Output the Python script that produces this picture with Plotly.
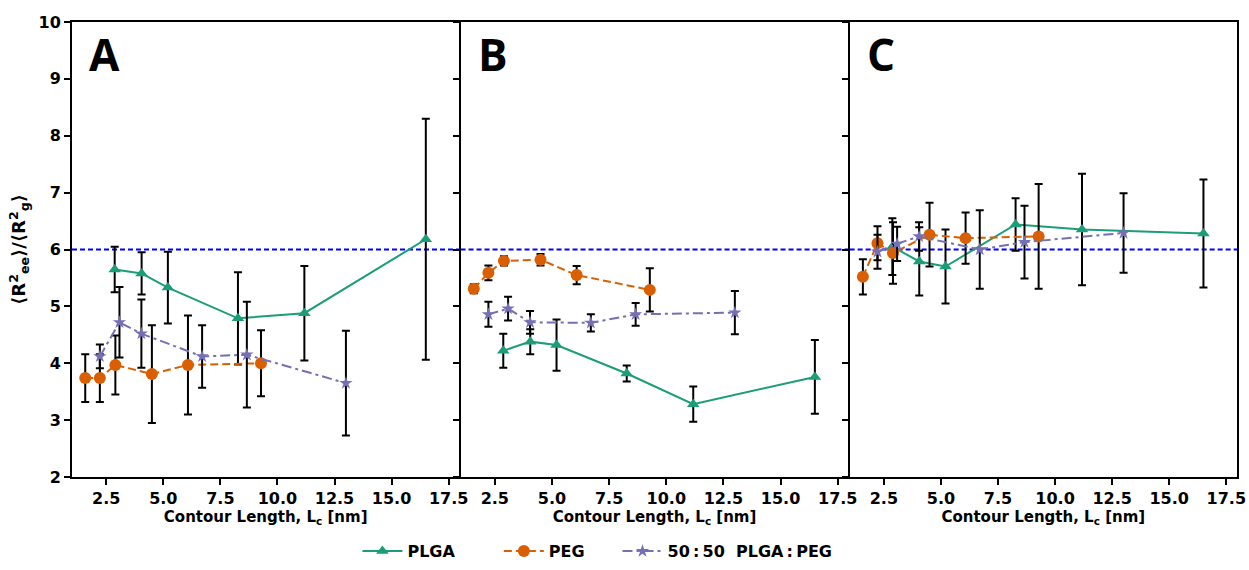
import plotly.graph_objects as go

# ---------------- data ----------------
x_plga = [2.87, 4.05, 5.20, 8.27, 11.18, 16.50]
x_peg = [1.58, 2.22, 2.90, 4.50, 6.08, 9.28]
x_mix = [2.22, 3.08, 4.04, 6.70, 8.66, 13.00]

# Panel A
a_plga = [5.65, 5.58, 5.33, 4.79, 4.88, 6.18]
a_plga_err = [0.40, 0.37, 0.63, 0.81, 0.83, 2.12]
a_peg = [3.74, 3.74, 3.97, 3.81, 3.97, 4.00]
a_peg_err = [0.42, 0.42, 0.52, 0.86, 0.87, 0.58]
a_mix = [4.12, 4.72, 4.52, 4.12, 4.15, 3.65]
a_mix_err = [0.21, 0.62, 0.60, 0.55, 0.93, 0.92]

# Panel B
b_plga = [4.22, 4.38, 4.32, 3.82, 3.28, 3.76]
b_plga_err = [0.30, 0.22, 0.45, 0.14, 0.31, 0.65]
b_peg = [5.31, 5.59, 5.80, 5.82, 5.55, 5.29]
b_peg_err = [0.08, 0.13, 0.08, 0.10, 0.16, 0.38]
b_mix = [4.86, 4.96, 4.72, 4.71, 4.86, 4.89]
b_mix_err = [0.22, 0.21, 0.20, 0.15, 0.20, 0.38]

# Panel C
c_plga = [6.05, 5.79, 5.70, 6.44, 6.35, 6.28]
c_plga_err = [0.50, 0.60, 0.65, 0.46, 0.98, 0.95]
c_peg = [5.52, 6.11, 5.94, 6.26, 6.20, 6.23]
c_peg_err = [0.31, 0.30, 0.54, 0.56, 0.45, 0.92]
c_mix = [5.96, 6.10, 6.23, 6.00, 6.13, 6.29]
c_mix_err = [0.30, 0.30, 0.25, 0.69, 0.64, 0.70]

panel_labels = ["A", "B", "C"]
series_names = ["PLGA", "PEG", "50\u2009:\u200950\u00a0\u00a0PLGA\u2009:\u2009PEG"]
x_ticks = [2.5, 5.0, 7.5, 10.0, 12.5, 15.0, 17.5]
x_tick_text = ["2.5", "5.0", "7.5", "10.0", "12.5", "15.0", "17.5"]
y_ticks = [2, 3, 4, 5, 6, 7, 8, 9, 10]
reference_value = 6.0

# ---------------- style ----------------
FONT = "DejaVu Sans"
GREEN = "#1b9e77"
ORANGE = "#d95f02"
PURPLE = "#7570b3"
legend_pad = ["\u00a0" * 7, "\u00a0" * 5, ""]

panels = [
    (a_plga, a_plga_err, a_peg, a_peg_err, a_mix, a_mix_err),
    (b_plga, b_plga_err, b_peg, b_peg_err, b_mix, b_mix_err),
    (c_plga, c_plga_err, c_peg, c_peg_err, c_mix, c_mix_err),
]

domains = [[0.0, 0.3325], [0.3335, 0.6665], [0.6675, 1.0]]

fig = go.Figure()

for i, (yp, ep, yg, eg, ym, em) in enumerate(panels):
    xa = "x" if i == 0 else f"x{i+1}"
    ya = "y" if i == 0 else f"y{i+1}"
    err_style = dict(type="data", thickness=2, width=4, color="black")
    specs = [
        (x_plga, yp, ep, 0, GREEN, "solid", "triangle-up", 11),
        (x_peg, yg, eg, 1, ORANGE, "8px,4px", "circle", 12),
        (x_mix, ym, em, 2, PURPLE, "10px,4px,3px,4px", "star", 10),
    ]
    for xs, ys, es, k, col, dash, sym, size in specs:
        fig.add_trace(go.Scatter(
            x=xs, y=ys, xaxis=xa, yaxis=ya, name=series_names[k] + legend_pad[k],
            mode="lines+markers",
            line=dict(color=col, width=2, dash=dash),
            marker=dict(color=col, symbol=sym, size=size, line=dict(width=0)),
            error_y=dict(array=es, **err_style),
            showlegend=(i == 0), legendgroup=series_names[k],
        ))
    # reference dashed line
    fig.add_shape(type="line", xref=f"{xa} domain", yref=ya,
                  x0=0, x1=1, y0=reference_value, y1=reference_value,
                  line=dict(color="#0000ff", width=1.8, dash="5px,3px"), layer="below")
    fig.add_annotation(text=f"<b>{panel_labels[i]}</b>", xref=f"{xa} domain", yref=f"{ya} domain",
                       x=0.04, y=1.0, xanchor="left", yanchor="top", showarrow=False,
                       font=dict(family="Open Sans", size=44, color="black"))

axis_common = dict(
    showline=True, linecolor="black", linewidth=2, mirror=True,
    ticks="outside", ticklen=6, tickwidth=2, tickcolor="black",
    showgrid=False, zeroline=False,
    tickfont=dict(family=FONT, size=16, color="black", weight="bold"),
)

layout = dict(
    width=1249, height=570,
    margin=dict(l=72, r=12, t=22, b=93, autoexpand=False),
    plot_bgcolor="white", paper_bgcolor="white",
    font=dict(family=FONT, color="black"),
    showlegend=True,
    legend=dict(orientation="h", x=0.451, xref="paper", y=0.033, yref="container",
                xanchor="center", yanchor="middle",
                font=dict(family=FONT, size=16, color="black", weight="bold"),
                itemwidth=40, traceorder="normal"),
)

for i in range(3):
    xkey = "xaxis" if i == 0 else f"xaxis{i+1}"
    ykey = "yaxis" if i == 0 else f"yaxis{i+1}"
    layout[xkey] = dict(domain=domains[i], range=[1.0, 17.97],
                        tickvals=x_ticks, ticktext=x_tick_text,
                        anchor="y" if i == 0 else f"y{i+1}",
                        title=dict(text="<b>Contour Length, L<sub>c</sub> [nm]</b>",
                                   font=dict(family=FONT, size=15, color="black"), standoff=0),
                        **axis_common)
    layout[ykey] = dict(range=[2, 10], tickvals=y_ticks,
                        anchor="x" if i == 0 else f"x{i+1}",
                        showticklabels=(i == 0),
                        **axis_common)

layout["yaxis"]["title"] = dict(
    text="<b>\u27e8R<sup>2</sup><sub>ee</sub>\u27e9/\u27e8R<sup>2</sup><sub>g</sub>\u27e9</b>",
    font=dict(family=FONT, size=18, color="black"), standoff=8)

fig.update_layout(**layout)
fig.write_html("out.html")
